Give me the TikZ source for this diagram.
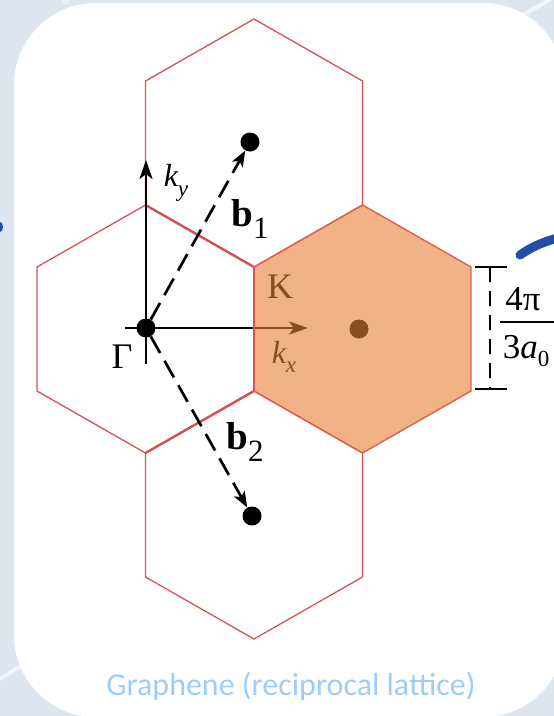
\documentclass[tikz,border=0pt]{standalone}
\usepackage{fontspec}
\setmainfont{Liberation Serif}
\newfontfamily\capfont{Carlito}
\usetikzlibrary{arrows.meta}
\definecolor{bgc}{RGB}{223,229,239}
\definecolor{hexred}{RGB}{214,80,84}
\definecolor{hexorange}{RGB}{222,96,78}
\definecolor{ovl}{RGB}{230,128,50}
\definecolor{capblue}{RGB}{158,205,250}
\definecolor{strokeblue}{RGB}{32,78,168}
\tikzset{
  hexline/.style={draw=hexred, line width=1.3pt, line join=miter},
  hexcell/.pic={\path[hexline] (0,-124) -- (108.5,-62) -- (108.5,62) -- (0,124) -- (-108.5,62) -- (-108.5,-62) -- cycle;},
  dotnode/.style={circle, fill=black, inner sep=0pt, minimum size=19pt},
  axis/.style={line width=2.7pt, -{Stealth[length=19pt, width=13pt, inset=5pt]}},
  vec/.style={line width=2.7pt, dash pattern=on 19pt off 9pt, -{Stealth[length=16pt, width=12pt, inset=4pt]}},
  lbl/.style={inner sep=0pt, font=\fontsize{36}{40}\selectfont},
  dimline/.style={line width=1.8pt},
}
\begin{document}
\begin{tikzpicture}[x=1pt, y=-1pt]
\useasboundingbox (0,0) rectangle (554,716);
% background
\fill[bgc] (0,0) rectangle (554,716);
\draw[white, opacity=0.6, line width=4pt] (510,22) -- (560,-6);
\draw[white, opacity=0.6, line width=4pt] (-5,682) -- (30,660);
\fill[white, opacity=0.35] (62,0) rectangle (69,4);
\fill[strokeblue] (0,227) ellipse (3pt and 5pt);
% card
\fill[white, rounded corners=82pt] (14,3) rectangle (565,717);
% hexagons
\pic at (145.5,329) {hexcell};
\pic at (254,143) {hexcell};
\pic at (254,515) {hexcell};
\draw[hexred, line width=2.4pt] (145.5,205) -- (254,267);
\draw[hexred, line width=2.4pt] (145.5,453) -- (254,391);
% points
\node[dotnode] (G) at (146,328) {};
\node[dotnode] (B1) at (250,142) {};
\node[dotnode] (B2) at (252,516) {};
\node[dotnode] (M) at (359,329) {};
\coordinate (kytip) at (146,160);
\coordinate (kybot) at (146,364);
\coordinate (kxtip) at (308,328);
\coordinate (kxleft) at (125,328);
% axes
\draw[line width=2.7pt] (G.center) -- (kybot);
\draw[line width=2.7pt] (kxleft) -- (G.center);
\draw[axis] (G.center) -- (kytip);
\draw[axis] (G.center) -- (kxtip);
\draw[vec] (G) -- (B1);
\draw[vec] (G) -- (B2);
% labels
\node[lbl, font=\fontsize{32}{36}\selectfont] (ky) at (176,183) {\itshape k\raisebox{-0.3em}{\fontsize{23}{25}\selectfont y}};
\node[lbl] (b1) at (250,219) {\fontsize{39}{42}\selectfont\bfseries b\raisebox{-0.3em}{\fontsize{31}{33}\selectfont\mdseries 1}};
\node[lbl] (b2) at (245,442) {\fontsize{39}{42}\selectfont\bfseries b\raisebox{-0.3em}{\fontsize{31}{33}\selectfont\mdseries 2}};
\node[lbl] (Kl) at (280,287) {K};
\node[lbl, font=\fontsize{32}{36}\selectfont] (kx) at (284,357) {\itshape k\raisebox{-0.3em}{\fontsize{23}{25}\selectfont x}};
\node[lbl] (Gl) at (122,357) {Γ};
% orange hexagon overlay
\fill[ovl, opacity=0.6] (362.5,205) -- (471,267) -- (471,391) -- (362.5,453) -- (254,391) -- (254,267) -- cycle;
\draw[hexorange, line width=1.4pt] (362.5,205) -- (471,267) -- (471,391) -- (362.5,453) -- (254,391) -- (254,267) -- cycle;
\draw[hexred, line width=1.4pt] (254,267) -- (254,391);
% dimension
\coordinate (dt) at (490,267);
\coordinate (db) at (490,389);
\coordinate (dtl) at (475,267);
\coordinate (dtr) at (507,267);
\coordinate (dbl) at (475,389);
\coordinate (dbr) at (507,389);
\draw[dimline] (dtl) -- (dtr);
\draw[dimline] (dbl) -- (dbr);
\draw[dimline, dash pattern=on 15pt off 9pt] (dt) -- (db);
\node[lbl, font=\fontsize{35}{38}\selectfont] (num) at (523,299) {4π};
\node[lbl, font=\fontsize{35}{38}\selectfont] (den) at (526,351) {3\textit{a}\raisebox{-0.25em}{\fontsize{23}{25}\selectfont 0}};
\coordinate (fl) at (500,322);
\coordinate (fr) at (554,322);
\draw[line width=1.6pt] (fl) -- (fr);
% blue stroke
\draw[strokeblue, line width=9pt, line cap=round] (520,255) .. controls (530,248) and (542,242) .. (558,238);
% caption
\node[inner sep=0pt, anchor=base, text=capblue, font=\capfont\fontsize{32}{36}\selectfont] (cap) at (291,695) {Graphene (reciprocal lattice)};
\end{tikzpicture}
\end{document}
